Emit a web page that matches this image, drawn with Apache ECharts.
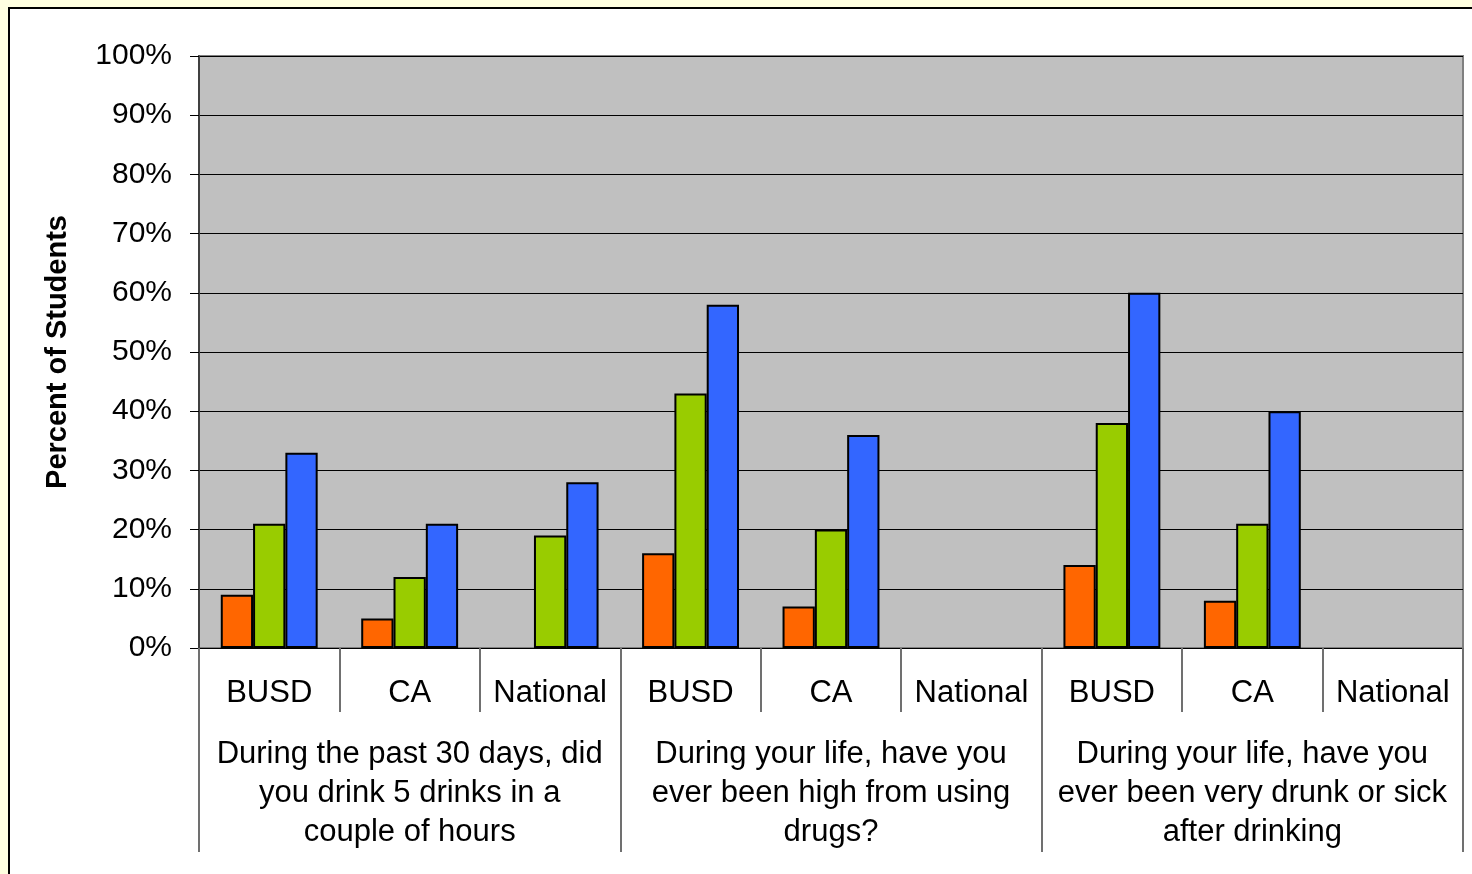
<!DOCTYPE html>
<html>
<head>
<meta charset="utf-8">
<style>
  html, body { margin: 0; padding: 0; background: #FFFFE0; }
  #chart { width: 1472px; height: 874px; }
</style>
<script src="https://cdn.jsdelivr.net/npm/echarts@6/dist/echarts.min.js"></script>
</head>
<body>
<div id="chart"></div>
<script>
// data
const places = ['BUSD', 'CA', 'National', 'BUSD', 'CA', 'National', 'BUSD', 'CA', 'National']
const questions = [
  'During the past 30 days, did\nyou drink 5 drinks in a\ncouple of hours',
  'During your life, have you\never been high from using\ndrugs?',
  'During your life, have you\never been very drunk or sick\nafter drinking'
]
const orangeValues = [9, 5, null, 16, 7, null, 14, 8, null]
const greenValues = [21, 12, 19, 43, 20, null, 38, 21, null]
const blueValues = [33, 21, 28, 58, 36, null, 60, 40, null]

const font = 'Arial, "Liberation Sans", sans-serif'

const chart = echarts.init(document.getElementById('chart'))

function barSeries(name, color, data) {
  return {
    name: name,
    type: 'bar',
    data: data,
    barGap: '0%',
    barCategoryGap: '31%',
    itemStyle: {
      color: color,
      borderColor: '#000',
      borderWidth: 2
    },
    animation: false
  }
}

chart.setOption({
  textStyle: { fontFamily: font },
  graphic: [{
    type: 'rect',
    z: -10,
    shape: { x: 9, y: 8, width: 1470, height: 872 },
    style: { fill: '#fff', stroke: '#000', lineWidth: 2 }
  }],
  grid: {
    left: 199,
    top: 56,
    right: 9,
    bottom: 226,
    show: true,
    backgroundColor: '#C0C0C0',
    borderColor: '#808080',
    borderWidth: 2
  },
  xAxis: [
    {
      type: 'category',
      position: 'bottom',
      data: places,
      axisLine: { show: true, lineStyle: { color: '#000', width: 1 } },
      axisTick: {
        show: true,
        interval: 0,
        alignWithLabel: false,
        length: 64,
        lineStyle: { color: '#707070', width: 2 }
      },
      axisLabel: {
        interval: 0,
        margin: 30,
        fontSize: 31,
        lineHeight: 31,
        color: '#000',
        fontFamily: font
      }
    },
    {
      type: 'category',
      position: 'bottom',
      data: questions,
      axisLine: { show: false },
      axisTick: {
        show: true,
        interval: 0,
        alignWithLabel: false,
        length: 204,
        lineStyle: { color: '#707070', width: 2 }
      },
      axisLabel: {
        interval: 0,
        margin: 87,
        fontSize: 31,
        lineHeight: 39,
        color: '#000',
        fontFamily: font
      }
    }
  ],
  yAxis: {
    type: 'value',
    min: 0,
    max: 100,
    interval: 10,
    name: 'Percent of Students',
    nameLocation: 'middle',
    nameGap: 127,
    nameTextStyle: {
      fontSize: 29,
      fontWeight: 'bold',
      color: '#000',
      fontFamily: font
    },
    axisLine: { show: true, lineStyle: { color: '#404040', width: 2 } },
    axisTick: { show: true, length: 9, lineStyle: { color: '#000', width: 1 } },
    axisLabel: {
      formatter: '{value}%',
      margin: 27,
      fontSize: 30,
      color: '#000',
      fontFamily: font
    },
    splitLine: { lineStyle: { color: '#000', width: 1 } }
  },
  series: [
    barSeries('Orange', '#FF6600', orangeValues),
    barSeries('Green', '#99CC00', greenValues),
    barSeries('Blue', '#3366FF', blueValues)
  ]
})
</script>
</body>
</html>
